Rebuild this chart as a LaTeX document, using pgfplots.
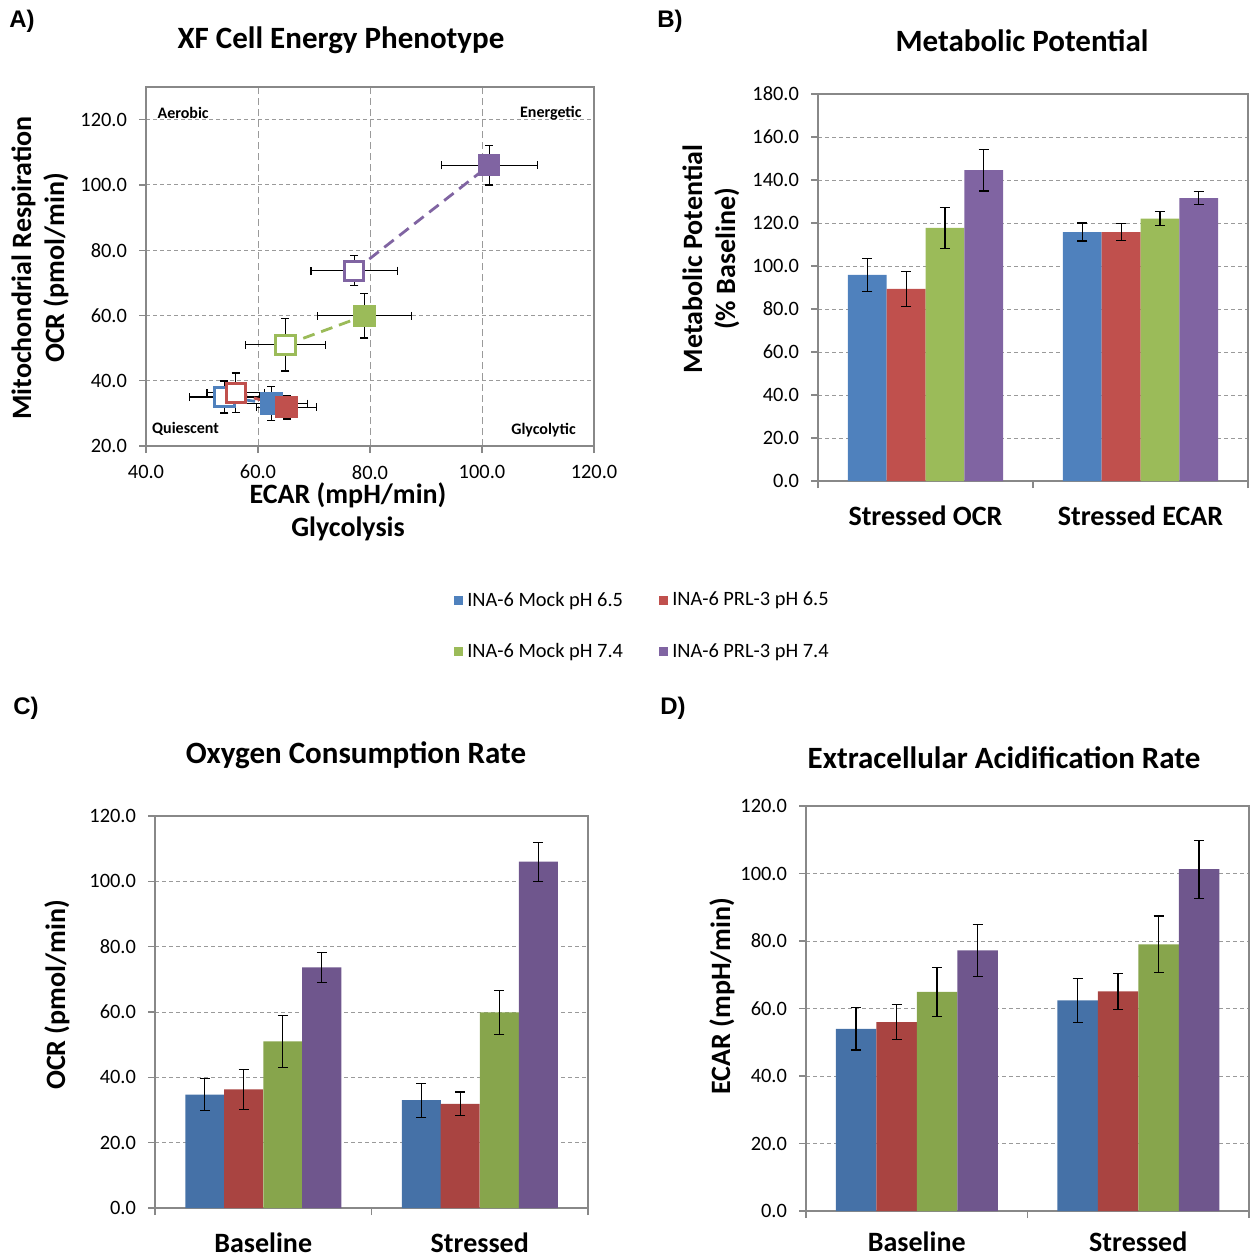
\documentclass[border=0pt]{standalone}
\usepackage{pgfplots}
\pgfplotsset{compat=1.18}
\usepackage{fontspec}
\setmainfont{Carlito}
\newfontfamily\letterfont{Liberation Sans}

% light (panels A, B, legend)
\definecolor{cB}{HTML}{4F81BD}
\definecolor{cR}{HTML}{C0504D}
\definecolor{cG}{HTML}{9BBB59}
\definecolor{cP}{HTML}{8064A2}
% dark (panels C, D)
\definecolor{dB}{HTML}{4571A7}
\definecolor{dR}{HTML}{A94441}
\definecolor{dG}{HTML}{87A54C}
\definecolor{dP}{HTML}{6F568D}
\definecolor{axgray}{HTML}{888888}
\definecolor{grdgray}{HTML}{9A9A9A}

\newcommand\titlefont{\fontsize{15.5}{18}\selectfont\bfseries}
\newcommand\labfont{\fontsize{14}{16.5}\selectfont\bfseries}
\newcommand\tickfont{\fontsize{10.2}{12}\selectfont}
\newcommand\letfont{\letterfont\fontsize{12}{14}\selectfont\bfseries}

\pgfplotsset{
  myaxis/.style={
    scale only axis,
    axis line style={draw=axgray, line width=0.6pt},
    tick style={draw=axgray, line width=0.6pt},
    tick align=outside,
    tick pos=left,
    major tick length=3.5pt,
    ymajorgrids,
    grid style={draw=grdgray, dash pattern=on 2pt off 1.5pt, line width=0.5pt},
    ticklabel style={font=\tickfont},
    yticklabel style={xshift=-2.5pt},
    /pgf/number format/fixed,
    /pgf/number format/fixed zerofill,
    /pgf/number format/precision=1,
    /pgf/number format/assume math mode=true,
  },
  baraxis/.style={
    myaxis,
    xmin=-0.5, xmax=1.5,
    xtick={-0.5,0.5,1.5},
    xticklabels={},
    extra x ticks={0,1},
    extra x tick style={major tick length=0pt, grid=none},
    xticklabel style={font=\labfont, yshift=-9pt},
  },
  errY/.style={error bars/.cd, y dir=both, y explicit,
    error bar style={black, line width=0.6pt},
    error mark options={rotate=90, black, line width=0.6pt, mark size=2.5pt}},
}

\begin{document}
\begin{tikzpicture}
\useasboundingbox (0,0) rectangle (625pt,-629pt);

% ---------------- Panel letters ----------------
\node[anchor=west, inner sep=0, font=\letfont] at (4.5pt,-10.5pt) {A)};
\node[anchor=west, inner sep=0, font=\letfont] at (328.5pt,-10.5pt) {B)};
\node[anchor=west, inner sep=0, font=\letfont] at (6.5pt,-354pt) {C)};
\node[anchor=west, inner sep=0, font=\letfont] at (330pt,-354pt) {D)};

% ---------------- Titles ----------------
\node[font=\titlefont] at (170.5pt,-20pt) {XF Cell Energy Phenotype};
\node[font=\titlefont] at (511pt,-20.5pt) {Metabolic Potential};
\node[font=\titlefont] at (178pt,-377.5pt) {Oxygen Consumption Rate};
\node[font=\titlefont] at (502pt,-379pt) {Extracellular Acidification Rate};

% ---------------- Axis labels ----------------
\node[font=\labfont, rotate=90, align=center] at (20pt,-134pt) {Mitochondrial Respiration\\OCR (pmol/min)};
\node[font=\labfont] at (174pt,-247.5pt) {ECAR (mpH/min)};
\node[font=\labfont] at (174pt,-264.5pt) {Glycolysis};
\node[font=\labfont, rotate=90, align=center] at (355.5pt,-129.5pt) {Metabolic Potential\\(\% Baseline)};
\node[font=\labfont, rotate=90] at (28.5pt,-497.5pt) {OCR (pmol/min)};
\node[font=\labfont, rotate=90] at (361pt,-498pt) {ECAR (mpH/min)};

% ================= Panel A =================
\begin{axis}[myaxis, at={(73pt,-223pt)}, anchor=south west,
  width=224pt, height=179.5pt,
  xmin=40, xmax=120, ymin=20, ymax=130,
  xtick={40,60,...,120}, ytick={20,40,...,120},
  xticklabel style={yshift=-2.5pt},
  xmajorgrids,
  x grid style={draw=grdgray, dash pattern=on 3.5pt off 2pt, line width=0.5pt},
]
% error bars
\addplot[only marks, mark=square*, mark options={draw=none, fill=none}, forget plot,
  error bars/.cd, x dir=both, x explicit, y dir=both, y explicit,
  error bar style={draw=black, line width=0.6pt},
  error mark options={rotate=90, draw=black, line width=0.6pt, mark size=2pt}]
  coordinates {
  (54,35) +- (6.3,4.9)
  (62.4,33) +- (6.45,5.2)
  (56,36.3) +- (5.1,6.1)
  (65.1,31.9) +- (5.35,3.6)
  (64.9,51) +- (7.2,8)
  (79,59.9) +- (8.4,6.8)
  (77.2,73.7) +- (7.75,4.55)
  (101.3,106) +- (8.6,6)
  };
% connecting lines
\addplot[cB, line width=1.4pt, dash pattern=on 6pt off 3.5pt] coordinates {(54,35) (62.4,33)};
\addplot[cR, line width=1.4pt, dash pattern=on 6pt off 3.5pt] coordinates {(56,36.3) (65.1,31.9)};
\addplot[cG, line width=1.4pt, dash pattern=on 6pt off 3.5pt] coordinates {(64.9,51) (79,59.9)};
\addplot[cP, line width=1.4pt, dash pattern=on 6pt off 3.5pt] coordinates {(77.2,73.7) (101.3,106)};
% markers
\addplot[only marks, mark=square*, mark size=4.8pt, mark options={draw=cB, fill=white, line width=1.5pt}] coordinates {(54,35)};
\addplot[only marks, mark=square*, mark size=4.8pt, mark options={draw=cB, fill=cB, line width=1.5pt}] coordinates {(62.4,33)};
\addplot[only marks, mark=square*, mark size=4.8pt, mark options={draw=cR, fill=white, line width=1.5pt}] coordinates {(56,36.3)};
\addplot[only marks, mark=square*, mark size=4.8pt, mark options={draw=cR, fill=cR, line width=1.5pt}] coordinates {(65.1,31.9)};
\addplot[only marks, mark=square*, mark size=4.8pt, mark options={draw=cG, fill=white, line width=1.5pt}] coordinates {(64.9,51)};
\addplot[only marks, mark=square*, mark size=4.8pt, mark options={draw=cG, fill=cG, line width=1.5pt}] coordinates {(79,59.9)};
\addplot[only marks, mark=square*, mark size=4.8pt, mark options={draw=cP, fill=white, line width=1.5pt}] coordinates {(77.2,73.7)};
\addplot[only marks, mark=square*, mark size=4.8pt, mark options={draw=cP, fill=cP, line width=1.5pt}] coordinates {(101.3,106)};
% quadrant labels
\node[anchor=west, inner sep=0, font=\fontsize{8}{9}\selectfont\bfseries] at (rel axis cs:0.025,0.928) {Aerobic};
\node[anchor=east, inner sep=0, font=\fontsize{8}{9}\selectfont\bfseries] at (rel axis cs:0.973,0.928) {Energetic};
\node[anchor=west, inner sep=0, font=\fontsize{8}{9}\selectfont\bfseries] at (rel axis cs:0.013,0.047) {Quiescent};
\node[anchor=east, inner sep=0, font=\fontsize{8}{9}\selectfont\bfseries] at (rel axis cs:0.96,0.045) {Glycolytic};
\end{axis}

% ================= Panel B =================
\begin{axis}[baraxis, at={(409pt,-240.5pt)}, anchor=south west,
  width=215pt, height=193.5pt,
  ymin=0, ymax=180, ytick={0,20,...,180},
  extra x tick labels={Stressed OCR, Stressed ECAR},
  legend style={at={(-0.406,-0.375)}, anchor=center, draw=none, fill=none,
    font=\tickfont, legend columns=2, row sep=13pt,
    /tikz/every even column/.append style={column sep=16pt}},
]
\addplot[ybar, bar width=19.4pt, bar shift=0pt, fill=cB, draw=none,
  legend image code/.code={\fill[cB] (-0.5pt,-2.3pt) rectangle (4.1pt,2.3pt);}, errY]
  coordinates {(-0.2707,95.9) +- (0,7.7) (0.7293,115.8) +- (0,4.2)};
\addplot[ybar, bar width=19.4pt, bar shift=0pt, fill=cR, draw=none,
  legend image code/.code={\fill[cR] (-0.5pt,-2.3pt) rectangle (4.1pt,2.3pt);}, errY]
  coordinates {(-0.0902,89.4) +- (0,8.1) (0.9098,115.8) +- (0,3.9)};
\addplot[ybar, bar width=19.4pt, bar shift=0pt, fill=cG, draw=none,
  legend image code/.code={\fill[cG] (-0.5pt,-2.3pt) rectangle (4.1pt,2.3pt);}, errY]
  coordinates {(0.0902,117.7) +- (0,9.4) (1.0902,122) +- (0,3.3)};
\addplot[ybar, bar width=19.4pt, bar shift=0pt, fill=cP, draw=none,
  legend image code/.code={\fill[cP] (-0.5pt,-2.3pt) rectangle (4.1pt,2.3pt);}, errY]
  coordinates {(0.2707,144.6) +- (0,9.7) (1.2707,131.6) +- (0,3)};
\legend{INA-6 Mock pH 6.5, INA-6 PRL-3 pH 6.5, INA-6 Mock pH 7.4, INA-6 PRL-3 pH 7.4}
\end{axis}

% ================= Panel C =================
\begin{axis}[baraxis, at={(77.5pt,-604pt)}, anchor=south west,
  width=216.5pt, height=196pt,
  ymin=0, ymax=120, ytick={0,20,...,120},
  extra x tick labels={Baseline, Stressed},
]
\addplot[ybar, bar width=19.5pt, bar shift=0pt, fill=dB, draw=none, errY]
  coordinates {(-0.2702,34.7) +- (0,4.9) (0.7298,33) +- (0,5.2)};
\addplot[ybar, bar width=19.5pt, bar shift=0pt, fill=dR, draw=none, errY]
  coordinates {(-0.0901,36.3) +- (0,6.1) (0.9099,31.9) +- (0,3.6)};
\addplot[ybar, bar width=19.5pt, bar shift=0pt, fill=dG, draw=none, errY]
  coordinates {(0.0901,51) +- (0,8) (1.0901,59.9) +- (0,6.8)};
\addplot[ybar, bar width=19.5pt, bar shift=0pt, fill=dP, draw=none, errY]
  coordinates {(0.2702,73.7) +- (0,4.55) (1.2702,106) +- (0,6)};
\end{axis}

% ================= Panel D =================
\begin{axis}[baraxis, at={(403pt,-605.5pt)}, anchor=south west,
  width=221.5pt, height=202.5pt,
  ymin=0, ymax=120, ytick={0,20,...,120},
  extra x tick labels={Baseline, Stressed},
  xticklabel style={yshift=2.2pt},
]
\addplot[ybar, bar width=20.25pt, bar shift=0pt, fill=dB, draw=none, errY]
  coordinates {(-0.2743,54) +- (0,6.3) (0.7257,62.4) +- (0,6.45)};
\addplot[ybar, bar width=20.25pt, bar shift=0pt, fill=dR, draw=none, errY]
  coordinates {(-0.0914,56) +- (0,5.1) (0.9086,65.1) +- (0,5.35)};
\addplot[ybar, bar width=20.25pt, bar shift=0pt, fill=dG, draw=none, errY]
  coordinates {(0.0914,64.9) +- (0,7.2) (1.0914,79) +- (0,8.4)};
\addplot[ybar, bar width=20.25pt, bar shift=0pt, fill=dP, draw=none, errY]
  coordinates {(0.2743,77.2) +- (0,7.75) (1.2743,101.3) +- (0,8.6)};
\end{axis}
\end{tikzpicture}
\end{document}
